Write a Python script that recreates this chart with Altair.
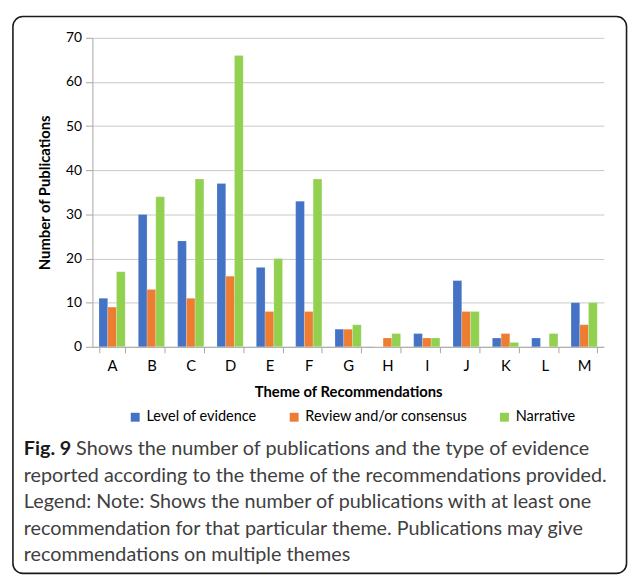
import altair as alt
import pandas as pd

THEMES = ["A", "B", "C", "D", "E", "F", "G", "H", "I", "J", "K", "L", "M"]
SERIES = ["Level of evidence", "Review and/or consensus", "Narrative"]
LEVEL_OF_EVIDENCE = [11, 30, 24, 37, 18, 33, 4, 0, 3, 15, 2, 2, 10]
REVIEW_CONSENSUS = [9, 13, 11, 16, 8, 8, 4, 2, 2, 8, 3, 0, 5]
NARRATIVE = [17, 34, 38, 66, 20, 38, 5, 3, 2, 8, 1, 3, 10]
COLORS = ["#4472C4", "#ED7D31", "#92D050"]
Y_TICKS = [0, 10, 20, 30, 40, 50, 60, 70]

X_TITLE = "Theme of Recommendations"
Y_TITLE = "Number of Publications"
CAPTION_BOLD = "Fig. 9"
CAPTION_FIRST = "Shows the number of publications and the type of evidence"
CAPTION_REST = [
    "reported according to the theme of the recommendations provided.",
    "Legend: Note: Shows the number of publications with at least one",
    "recommendation for that particular theme. Publications may give",
    "recommendations on multiple themes",
]

rows = []
for series, values in zip(SERIES, [LEVEL_OF_EVIDENCE, REVIEW_CONSENSUS, NARRATIVE]):
    for theme, v in zip(THEMES, values):
        rows.append({"Theme": theme, "Type": series, "Count": v})
df = pd.DataFrame(rows)

FONT = "Lato"
W, H = 518, 313
CAP_SIZE = 20
CAP_LINE = 26.7

bars = alt.Chart(df).mark_bar(stroke="#ffffff", strokeOpacity=0.35, strokeWidth=0.6).encode(
    x=alt.X(
        "Theme:N",
        sort=THEMES,
        scale=alt.Scale(paddingInner=0.333, paddingOuter=0.1667),
        axis=alt.Axis(
            title=X_TITLE,
            labelAngle=0,
            tickBand="extent",
            tickSize=6,
            labelPadding=6,
            labelFontSize=15,
            titleFontSize=15,
            titleFontWeight="bold",
            titleY=45,
            titleBaseline="middle",
            grid=False,
        ),
    ),
    xOffset=alt.XOffset("Type:N", sort=SERIES, scale=alt.Scale(paddingInner=0, paddingOuter=0)),
    y=alt.Y(
        "Count:Q",
        scale=alt.Scale(domain=[0, 70], nice=False),
        axis=alt.Axis(
            title=Y_TITLE,
            values=Y_TICKS,
            tickSize=7,
            labelPadding=4,
            labelFontSize=14,
            titleFontSize=15,
            titleFontWeight="bold",
            titleX=-48,
            titleY=H / 2,
            titleBaseline="middle",
            grid=True,
        ),
    ),
    color=alt.Color(
        "Type:N",
        sort=SERIES,
        scale=alt.Scale(domain=SERIES, range=COLORS),
        legend=alt.Legend(
            title=None,
            orient="none",
            direction="horizontal",
            legendX=36,
            legendY=376.5,
            symbolType="square",
            symbolSize=81,
            symbolStrokeWidth=0,
            labelFontSize=14.7,
            labelFont=FONT,
            labelColor="#000000",
            labelOffset=4,
            labelLimit=400,
            columnPadding=30,
            padding=0,
        ),
    ),
)

box = alt.Chart(pd.DataFrame({"k": [0]})).mark_rect(
    filled=False, stroke="#1a1a1a", strokeWidth=1.6, cornerRadius=10
).encode(
    x=alt.value(-80.5), x2=alt.value(541), y=alt.value(-21.5), y2=alt.value(542.5)
)

cap_bold = alt.Chart(pd.DataFrame({"t": [CAPTION_BOLD]})).mark_text(
    align="left", baseline="alphabetic", font=FONT, fontSize=CAP_SIZE, fontWeight="bold", color="#1a1a1a"
).encode(text="t:N", x=alt.value(-69.5), y=alt.value(423))

cap_first = alt.Chart(pd.DataFrame({"t": [CAPTION_FIRST]})).mark_text(
    align="left", baseline="alphabetic", font=FONT, fontSize=CAP_SIZE, color="#404040"
).encode(text="t:N", x=alt.value(-16.5), y=alt.value(423))

cap_rest = alt.Chart(pd.DataFrame({"t": ["\n".join(CAPTION_REST)]})).mark_text(
    align="left", baseline="alphabetic", font=FONT, fontSize=CAP_SIZE, color="#404040",
    lineBreak="\n", lineHeight=CAP_LINE,
).encode(text="t:N", x=alt.value(-69.5), y=alt.value(423 + CAP_LINE))

chart = alt.layer(box, bars, cap_bold, cap_first, cap_rest).properties(
    width=W,
    height=H,
    padding={"left": 85.5, "top": 26.5, "right": 25.5, "bottom": 233.5},
    autosize=alt.AutoSizeParams(type="none"),
    background="white",
).configure_view(stroke="transparent").configure_axis(
    labelFont=FONT,
    titleFont=FONT,
    labelColor="#000000",
    titleColor="#000000",
    domainColor="#a6a6a6",
    tickColor="#a6a6a6",
    gridColor="#c8c8c8",
)

chart.save("out.html", embed_options={"renderer": "svg", "actions": False})
